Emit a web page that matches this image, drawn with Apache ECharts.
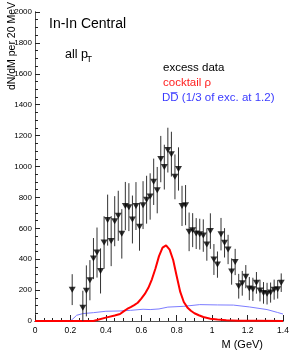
<!DOCTYPE html>
<html><head><meta charset="utf-8">
<script src="https://cdn.jsdelivr.net/npm/echarts@6/dist/echarts.min.js"></script>
<style>html,body{margin:0;padding:0;background:#fff}#c{width:292px;height:359px}</style>
</head><body><div id="c"></div>
<script>
// excess data (mass bin centres in GeV, dN/dM, error)
const mass = [0.21,0.27,0.29,0.31,0.33,0.35,0.37,0.39,0.41,0.43,0.45,0.47,0.49,0.51,0.53,0.55,0.57,0.59,0.61,0.63,0.65,0.67,0.69,0.71,0.73,0.75,0.77,0.79,0.81,0.83,0.85,0.87,0.89,0.91,0.93,0.95,0.97,0.99,1.01,1.03,1.05,1.07,1.09,1.11,1.13,1.15,1.17,1.19,1.21,1.23,1.25,1.27,1.29,1.31,1.33,1.35,1.37,1.39];
const excess = [203,86,195,264,404,443,324,508,653,517,646,681,564,744,737,657,744,610,750,785,806,901,847,1048,996,1106,1080,933,984,745,750,577,588,566,562,553,495,582,398,365,562,506,463,320,382,225,244,287,210,205,247,197,182,177,184,203,205,248];
const errors = [100,110,165,130,133,162,146,170,165,162,162,162,160,156,155,155,155,155,155,155,150,150,150,150,145,145,145,145,140,130,130,125,110,100,100,105,105,115,100,85,105,95,95,85,85,80,80,75,75,75,70,70,70,70,65,65,60,60];
// cocktail rho curve
const rhoM = [0,0.33,0.35,0.40,0.45,0.48,0.50,0.52,0.54,0.56,0.58,0.60,0.62,0.64,0.66,0.68,0.70,0.72,0.74,0.76,0.78,0.80,0.82,0.84,0.86,0.88,0.90,0.925,0.95,0.99,1.03,1.08,1.15,1.25,1.4];
const rhoV = [0,0,6,22,36,45,62,78,90,103,118,145,175,215,270,340,420,475,490,462,395,290,188,123,88,66,50,37,26,15,10,5,2,1,0];
// D Dbar curve
const ddM = [0,0.2,0.22,0.235,0.27,0.33,0.40,0.48,0.54,0.61,0.65,0.70,0.75,0.84,0.93,1.03,1.12,1.21,1.31,1.37,1.4];
const ddV = [0,0,20,37,48,54,63,65,69,76,74,78,90,95,106,104,103,91,74,55,45];
// axis ticks
const xTicks = [0,0.2,0.4,0.6,0.8,1,1.2,1.4];
const yTicks = [0,200,400,600,800,1000,1200,1400,1600,1800,2000];

const FONT = '"Liberation Sans", Arial, sans-serif';
const chart = echarts.init(document.getElementById('c'), null, {renderer:'canvas'});
const pts = mass.map((m,i)=>[m, excess[i], errors[i]]);
const axisCol = '#222';
chart.setOption({
  animation:false,
  backgroundColor:'#fff',
  grid:{left:35,right:9,top:12,bottom:38},
  xAxis:[{
    type:'value', min:xTicks[0], max:xTicks[xTicks.length-1], interval:0.2,
    axisLine:{show:true,lineStyle:{color:axisCol,width:1}},
    axisTick:{show:true,inside:true,length:6,lineStyle:{color:axisCol}},
    minorTick:{show:true,splitNumber:4,length:3,lineStyle:{color:axisCol}},
    splitLine:{show:false},
    axisLabel:{margin:5,fontSize:8.5,fontFamily:FONT,color:'#000',
      formatter:v=>String(+v.toFixed(1))}
  },{
    type:'value', position:'top', min:0, max:1.4,
    axisLine:{show:true,lineStyle:{color:'#555',width:1}},
    axisTick:{show:false},axisLabel:{show:false},splitLine:{show:false}
  }],
  yAxis:[{
    type:'value', min:yTicks[0], max:yTicks[yTicks.length-1], interval:200,
    axisLine:{show:true,lineStyle:{color:axisCol,width:1}},
    axisTick:{show:true,inside:true,length:5,lineStyle:{color:axisCol}},
    minorTick:{show:true,splitNumber:4,length:3,lineStyle:{color:axisCol}},
    splitLine:{show:false},
    axisLabel:{margin:3,fontSize:8,fontFamily:FONT,color:'#000',formatter:v=>String(v)}
  },{
    type:'value', position:'right', min:0, max:2000,
    axisLine:{show:true,lineStyle:{color:'#555',width:1}},
    axisTick:{show:false},axisLabel:{show:false},splitLine:{show:false}
  }],
  series:[
    {type:'line', data:ddM.map((m,i)=>[m,ddV[i]]), showSymbol:false, symbol:'none',
      lineStyle:{color:'#7c7cff',width:1}, z:2},
    {type:'line', data:rhoM.map((m,i)=>[m,rhoV[i]]), showSymbol:false, symbol:'none',
      lineStyle:{color:'#ff0000',width:2}, z:3},
    {type:'custom', data:pts, z:4, clip:true,
      renderItem:(params,api)=>{
        const m=api.value(0), v=api.value(1), e=api.value(2);
        const a=api.coord([m,Math.max(v-e,0)]), b=api.coord([m,Math.min(v+e,2000)]);
        return {type:'line',shape:{x1:a[0],y1:a[1],x2:b[0],y2:b[1]},
          style:{stroke:'#333',lineWidth:1}};
      }},
    {type:'scatter', data:pts.map(p=>[p[0],p[1]]), symbol:'triangle', symbolRotate:180,
      symbolSize:[7,6], itemStyle:{color:'#000'}, z:5}
  ],
  graphic:[
    {type:'text', x:49, y:31, style:{text:'In-In Central', fontSize:14, fontFamily:FONT, fill:'#000', textVerticalAlign:'bottom'}},
    {type:'text', x:65, y:61, style:{text:'all p', fontSize:12.5, fontFamily:FONT, fill:'#000', textVerticalAlign:'bottom'}},
    {type:'text', x:86.5, y:64, style:{text:'T', fontSize:9, fontFamily:FONT, fill:'#000', textVerticalAlign:'bottom'}},
    {type:'text', x:163, y:74, style:{text:'excess data', fontSize:11.5, fontFamily:FONT, fill:'#000', textVerticalAlign:'bottom'}},
    {type:'text', x:163, y:89, style:{text:'cocktail \u03c1', fontSize:11.5, fontFamily:FONT, fill:'#ff2020', textVerticalAlign:'bottom'}},
    {type:'text', x:162, y:104, style:{text:'DD\u0305 (1/3 of exc. at 1.2)', fontSize:11.5, fontFamily:FONT, fill:'#3a3aff', textVerticalAlign:'bottom'}},
    {type:'text', x:263, y:345, style:{text:'M (GeV)', fontSize:11, fontFamily:FONT, fill:'#000', textAlign:'right', textVerticalAlign:'middle'}},
    {type:'text', x:12, y:2, rotation:Math.PI/2, style:{text:'dN/dM per 20 MeV', fontSize:10.5, fontFamily:FONT, fill:'#000', textAlign:'right', textVerticalAlign:'middle'}}
  ]
});
</script></body></html>
